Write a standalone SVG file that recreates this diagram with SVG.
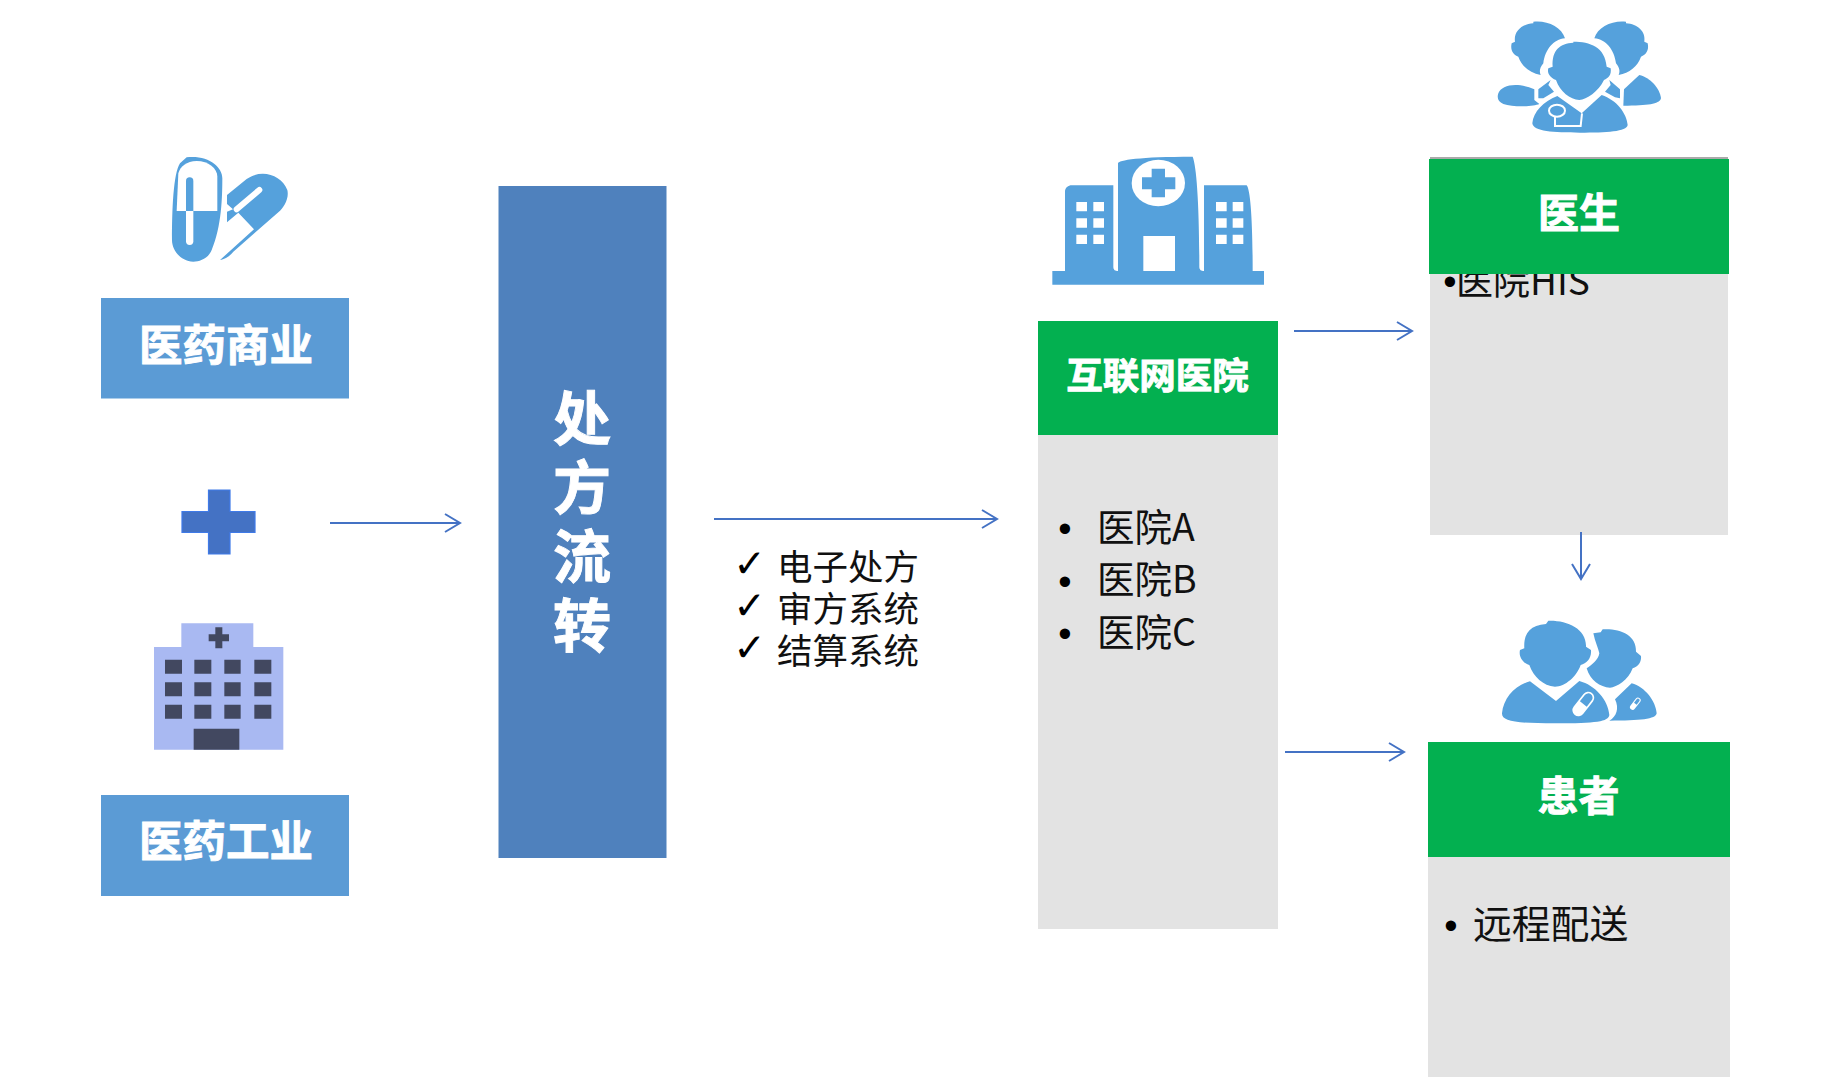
<svg xmlns="http://www.w3.org/2000/svg" width="1822" height="1090" viewBox="0 0 1822 1090"><style>text{font-family:"Noto Sans CJK SC","Noto Sans",sans-serif}.l{font-weight:700;fill:#fff;stroke:#fff;stroke-width:.9;text-anchor:middle}.g{fill:#e3e3e3}.h{fill:#03b050}.b{fill:#5b9bd5}.i{fill:#55a1dc}.t{font-size:37.500px;fill:#111}.d{font-family:"Liberation Sans",sans-serif;font-size:38px;fill:#000;text-anchor:middle}.k{font-family:"DejaVu Sans",sans-serif;font-size:39px;font-weight:700;fill:#000;text-anchor:middle}.w{fill:#424860}.c{fill:none;stroke:#4472c4;stroke-width:2}.z{transform:scale(.33333)}.o{fill:none;stroke:#fff;stroke-width:6}</style>
<defs><marker id="a" markerWidth="18" markerHeight="20" refX="16" refY="10" orient="auto" markerUnits="userSpaceOnUse"><path d="M1 1L16 10L1 19" fill="none" stroke="#4472c4" stroke-width="2"/></marker></defs>
<g id="icon-pills" transform="translate(80 130)"><g class="z"><path class="i" d="M320 82C385 75 427 110 427 145C427 200 425 290 395 360C385 385 360 395 340 395C300 393 276 360 276 330C276 240 280 130 300 100Z"/><path fill="#fff" d="M290 243H412V140C412 115 385 93 350 93C320 93 300 110 295 130Z"/><path class="i" d="M318 153a11 11 0 0 1 22 0V243H318Z"/><path fill="#fff" d="M318 243H340V334a11 11 0 0 1-22 0Z"/><path class="i" d="M441 195L500 147C545 115 605 135 622 180C628 205 612 232 595 247L460 365C450 378 435 388 420 390L522 298L475 248L441 277V245L459 238L441 222Z"/><path d="M538 180L470 238" stroke="#fff" stroke-width="18" stroke-linecap="round" fill="none"/></g></g>
<g id="n1"><rect x="101" y="298" width="248" height="100.500" class="b"/><text x="226" y="361" font-size="43.500" class="l">医药商业</text></g>
<g id="icon-plus"><path d="M208.500 490H230V511.500H255V532.500H230V554H208.500V532.500H182V511.500H208.500Z" fill="#4472c4" stroke="#3f7ae8" stroke-width="1.200"/></g>
<g id="icon-hospital" transform="translate(80 470)"><g class="z"><path d="M304 460H520V531H610V839H222V531H304Z" fill="#a9b9f2"/><path class="w" d="M406 472h21v21h20v21h-20v21h-21v-21h-20v-21h20Z"/><path class="w" d="M255 569h51v42h-51ZM343 569h51v42h-51ZM433 569h49v42h-49ZM523 569h51v42h-51ZM255 637h51v42h-51ZM343 637h51v42h-51ZM433 637h49v42h-49ZM523 637h51v42h-51ZM255 704h51v42h-51ZM343 704h51v42h-51ZM433 704h49v42h-49ZM523 704h51v42h-51ZM341 776h137v63H341Z"/></g></g>
<g id="n2"><rect x="101" y="795" width="248" height="101" class="b"/><text x="226" y="857" font-size="43.500" class="l">医药工业</text></g>
<g id="n3"><rect x="498.500" y="186" width="168" height="672" fill="#4f81bd"/><text font-size="58" class="l" stroke-width=".5"><tspan x="582" y="440">处</tspan><tspan x="582" y="509">方</tspan><tspan x="582" y="578">流</tspan><tspan x="582" y="647">转</tspan></text></g>
<g id="n7"><text class="k" x="749.500" y="577">✓</text><text class="k" x="749.500" y="619">✓</text><text class="k" x="749.500" y="661">✓</text><text x="777" y="579.500" font-size="35.500" fill="#111">电子处方</text><text x="777" y="621.500" font-size="35.500" fill="#111">审方系统</text><text x="777" y="663.500" font-size="35.500" fill="#111">结算系统</text></g>
<g id="icon-building" transform="translate(1040 140)"><g class="z"><path class="i" d="M37 393H75V155C75 143 85 136 95 136H220V380C220 390 226 393 234 393V70C234 60 300 50 458 50C470 80 478 200 478 380C478 390 484 393 492 393V136H620C632 150 638 250 638 393H672V434H37Z"/><ellipse cx="355" cy="129" rx="80" ry="70" fill="#fff"/><path class="i" d="M335 86h40v26h31v36h-31v24h-40v-24h-29v-36h29Z"/><path fill="#fff" d="M310 288h95v105h-95ZM109 186h32v28h-32ZM160 186h32v28h-32ZM109 235h32v28h-32ZM160 235h32v28h-32ZM109 284h32v28h-32ZM160 284h32v28h-32ZM528 186h32v28h-32ZM578 186h32v28h-32ZM528 235h32v28h-32ZM578 235h32v28h-32ZM528 284h32v28h-32ZM578 284h32v28h-32Z"/></g></g>
<g id="n4"><rect x="1038" y="435" width="240" height="494" class="g"/><rect x="1038" y="321" width="240" height="114" class="h"/><text x="1157.500" y="389" font-size="36.500" class="l">互联网医院</text><text class="d" x="1065" y="542">•</text><text class="d" x="1065" y="594.500">•</text><text class="d" x="1065" y="647">•</text><text x="1097" y="540.500" class="t">医院A</text><text x="1097" y="592.500" class="t">医院B</text><text x="1097" y="645.500" class="t">医院C</text></g>
<g id="icon-doctors" transform="translate(1480 0)"><g class="z"><path class="i" d="M160 65C200 60 245 80 255 115C220 118 195 150 190 190C178 205 178 215 182 225C150 218 125 200 115 170C100 165 90 150 95 130L105 125C100 95 125 72 160 70Z"/><path class="i" d="M438 65C398 60 353 80 343 115C378 118 403 150 408 190C420 205 420 215 416 225C448 218 473 200 483 170C498 165 508 150 503 130L493 125C498 95 473 72 438 70Z"/><path class="i" d="M55 280C65 255 110 245 163 268V300L178 312C160 320 100 322 70 312C55 305 50 295 55 280Z"/><path class="i" d="M478 225C510 232 540 265 543 295C540 310 510 318 430 317L432 268Z"/><path class="i" d="M175 268L212 240L205 255L222 275L190 295H175ZM420 268L388 240L392 255L375 275L405 292L420 295Z"/><path class="i" d="M280 125C330 125 375 140 380 200L392 205C395 225 385 235 372 240C355 275 320 298 298 300C270 298 240 275 228 240C212 235 200 220 205 205L218 200C215 150 240 130 280 128Z"/><path class="i" d="M232 288L305 340L365 285C410 300 440 340 443 375C440 395 380 398 300 398C220 398 160 395 157 370C160 335 190 305 232 288Z"/><ellipse class="o" cx="231" cy="332" rx="24" ry="18"/><path class="o" d="M225 350V378H302L306 340"/></g></g>
<g id="n5"><rect x="1430" y="157" width="298" height="378" class="g"/><rect x="1430" y="157" width="298" height="3" fill="#aaa"/><text class="d" x="1450" y="295">•</text><text x="1456" y="294.500" font-size="37" fill="#111">医院HIS</text><rect x="1429" y="159" width="300" height="115" class="h"/><text x="1579" y="228" font-size="41" class="l">医生</text></g>
<g id="icon-patients" transform="translate(1480 600)"><g class="z"><path class="i" d="M205 62C260 60 320 85 318 140L333 150C335 175 320 190 302 195C290 230 255 260 225 260C190 258 160 230 148 195C130 190 115 170 120 150L133 145C130 100 150 75 198 72Z"/><path class="i" d="M150 244L228 303L298 243C345 255 385 300 388 345C385 365 350 370 225 370C110 370 65 365 66 340C70 295 105 255 150 244Z"/><path class="i" d="M368 88C420 85 470 105 468 155L483 168C485 185 475 200 458 205C445 240 410 262 390 263C360 262 330 240 320 205C335 195 355 180 358 160C355 145 345 125 340 100L362 97Z"/><path class="i" d="M455 250C495 260 528 305 530 340C528 358 480 362 388 362C410 350 418 325 405 298Z"/><g transform="rotate(38 310 312)"><rect x="292" y="270" width="36" height="84" rx="18" fill="#fff"/><path class="i" d="M297 312V288a13 13 0 0 1 26 0V312Z"/></g><g transform="rotate(38 466 311)"><rect x="458" y="290" width="16" height="42" rx="8" fill="#fff"/><path class="i" d="M461 311V298a5 5 0 0 1 10 0V311Z"/></g></g></g>
<g id="n6"><rect x="1428" y="742" width="302" height="335" class="g"/><rect x="1428" y="742" width="302" height="115" class="h"/><text x="1578.500" y="811" font-size="41" class="l">患者</text><text class="d" x="1451" y="939">•</text><text x="1473" y="938" font-size="38.800" fill="#111">远程配送</text></g>
<g id="c"><path class="c" marker-end="url(#a)" d="M330 523H460"/><path class="c" marker-end="url(#a)" d="M714 519H997"/><path class="c" marker-end="url(#a)" d="M1294 331H1412"/><path class="c" marker-end="url(#a)" d="M1285 752H1404"/><path class="c" marker-end="url(#a)" d="M1581 532V579"/></g>
</svg>
